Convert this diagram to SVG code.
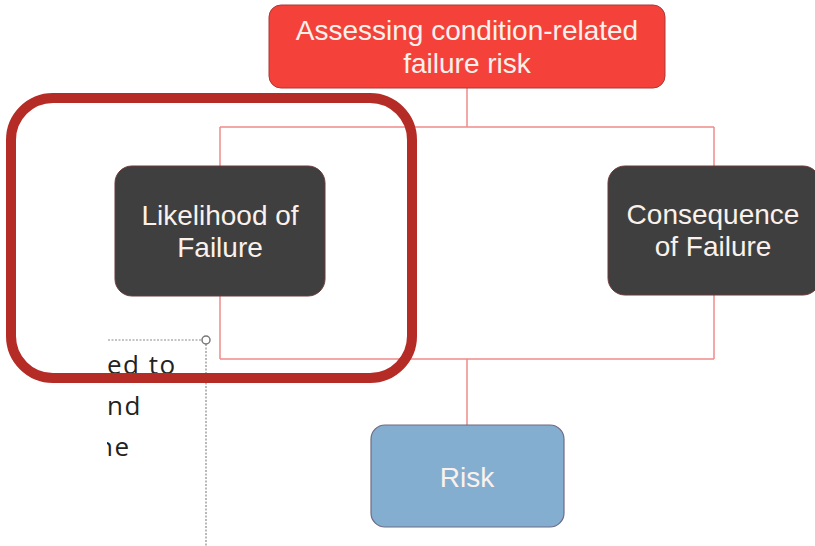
<svg xmlns="http://www.w3.org/2000/svg" width="815" height="546" viewBox="0 0 815 546">
<style>
.conn{fill:none;stroke:#f08a8a;stroke-width:1.5}
.lbl{font-family:"Liberation Sans",Arial,sans-serif;font-size:28px;fill:#fbf1ec;text-anchor:middle}
.dark{fill:#3f3f3f;stroke:#6b3b3b;stroke-width:1}
.frag{font-family:"Open Sans","Noto Sans",sans-serif;font-size:26px;fill:#222;letter-spacing:1.5px}
.dot{fill:none;stroke:#8a8a8a;stroke-width:1.2;stroke-dasharray:2 1.5}
</style>
<defs>
<clipPath id="clipTxt"><rect x="107" y="340" width="100" height="206"/></clipPath>
</defs>
<rect width="815" height="546" fill="#ffffff"/>
<g id="connectors">
<path class="conn" d="M467 88V127M220 127H714M220 127V166M714 127V166M220 296V359M714 295V359M220 359H714M467 359V425"/>
</g>
<g id="textbox">
<g clip-path="url(#clipTxt)">
<text class="frag" x="107" y="374">ed to</text>
<text class="frag" x="107" y="415">nd</text>
<text class="frag" x="97" y="456">ne</text>
</g>
<path class="dot" d="M108 340H202M206 344V546"/>
<circle cx="206" cy="340" r="4" fill="#fff" stroke="#777" stroke-width="1.5"/>
</g>
<g id="top">
<rect x="269" y="5" width="396" height="83" rx="12" fill="#f4423b" stroke="#a83a36" stroke-width="1"/>
<text class="lbl" x="467" y="40">Assessing condition-related</text>
<text class="lbl" x="467" y="73">failure risk</text>
</g>
<g id="likelihood">
<rect class="dark" x="115" y="166" width="210" height="130" rx="17"/>
<text class="lbl" x="220" y="225">Likelihood of</text>
<text class="lbl" x="220" y="257">Failure</text>
</g>
<g id="consequence">
<rect class="dark" x="608" y="166" width="212" height="129" rx="17"/>
<text class="lbl" x="713" y="224">Consequence</text>
<text class="lbl" x="713" y="256">of Failure</text>
</g>
<g id="risk">
<rect x="371" y="425" width="193" height="102" rx="14" fill="#84aed0" stroke="#6e6a84" stroke-width="1.2"/>
<text class="lbl" x="467" y="487">Risk</text>
</g>
<g id="highlight">
<rect x="11" y="98" width="401" height="280" rx="42" fill="none" stroke="#b52b26" stroke-width="10"/>
</g>
</svg>
